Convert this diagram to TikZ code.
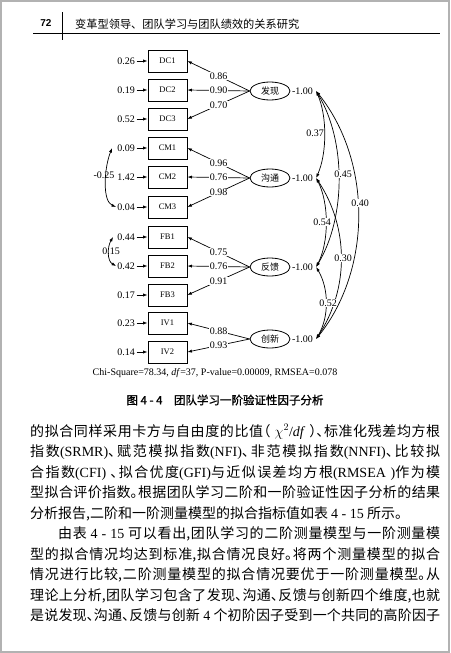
\documentclass[tikz,border=0pt]{standalone}
\usepackage{fontspec}
\setmainfont{Liberation Serif}
\newfontfamily\cjk{Noto Sans CJK SC}
\newfontfamily\cjkbody[RawFeature=+halt]{Noto Sans CJK SC}
\newfontfamily\cjkb[FakeBold=1.2]{Noto Sans CJK SC}
\newfontfamily\hsans{Liberation Sans}
\usetikzlibrary{arrows.meta,shapes.geometric}
\newcommand\mylat[1]{{\rmfamily #1}}
\begin{document}
\begin{tikzpicture}[x=1pt,y=-1pt,
  box/.style={draw,line width=0.8pt,minimum width=39pt,minimum height=22pt,inner sep=0pt,font=\fontsize{8.5}{8.5}\selectfont},
  lat/.style={ellipse,draw,line width=0.8pt,minimum width=40pt,minimum height=18pt,inner sep=0pt,font=\cjk\fontsize{9}{9}\selectfont},
  err/.style={anchor=east,inner sep=0pt,font=\fontsize{10}{10}\selectfont},
  num/.style={inner sep=0.6pt,fill=white,font=\fontsize{10}{10}\selectfont},
  bare/.style={inner sep=0pt,font=\fontsize{10}{10}\selectfont},
  arr/.style={-{Latex[length=4.5pt,width=3.2pt]},line width=0.7pt},
  cov/.style={{Latex[length=4.5pt,width=3.2pt]}-{Latex[length=4.5pt,width=3.2pt]},line width=0.7pt}]
\useasboundingbox (0,0) rectangle (450,653);
% page frame
\draw[gray!60,line width=1.2pt] (1,1) rectangle (449,652);
% header
\node[font=\hsans\bfseries\fontsize{10}{10}\selectfont] (pg) at (46,23) {72};
\draw[line width=1pt] (62,12) -- (62,40);
\node[anchor=west,inner sep=0pt,font=\cjk\fontsize{11.2}{11.2}\selectfont] (ht) at (75,24) {变革型领导、团队学习与团队绩效的关系研究};
\draw[line width=1.6pt] (33,33.5) -- (440,33.5);
% observed variables and errors
\foreach \n/\t/\y/\e in {d1/DC1/61/0.26, d2/DC2/90/0.19, d3/DC3/119/0.52,
  c1/CM1/148/0.09, c2/CM2/177/1.42, c3/CM3/207/0.04,
  b1/FB1/237/0.44, b2/FB2/266/0.42, b3/FB3/295/0.17,
  i1/IV1/323/0.23, i2/IV2/352/0.14}{
  \node[box] (\n) at (167.5,\y) {\t};
  \node[err] (e\n) at (135,\y) {\e};
  \draw[arr,shorten <=1.5pt] (e\n) -- (\n);
}
% latent variables
\node[lat] (f1) at (270,91) {发现};
\node[lat] (f2) at (270,178) {沟通};
\node[lat] (f3) at (270,267) {反馈};
\node[lat] (f4) at (270,339) {创新};
% loadings
\foreach \f/\b/\v in {f1/d1/0.86, f1/d2/0.90, f1/d3/0.70,
  f2/c1/0.96, f2/c2/0.76, f2/c3/0.98,
  f3/b1/0.75, f3/b2/0.76, f3/b3/0.91,
  f4/i1/0.88, f4/i2/0.93}{
  \draw[arr] (\f.west) -- (\b.east) node[num,pos=0.5] {\v};
}
% variances
\foreach \k in {1,2,3,4}{
  \node[bare,anchor=west] (v\k) at ([xshift=1.5pt]f\k.east) {-1.00};
  \coordinate (r\k) at ([xshift=3pt]v\k.east);
}
% factor covariances
\draw[cov] (r1) .. controls +(11,25) and +(11,-25) .. (r2);
\draw[cov] (r1) .. controls +(30,50) and +(30,-50) .. (r3);
\draw[cov] (r1) .. controls +(56,70) and +(56,-70) .. (r4);
\draw[cov] (r2) .. controls +(13,25) and +(13,-25) .. (r3);
\draw[cov] (r2) .. controls +(33,50) and +(33,-50) .. (r4);
\draw[cov] (r3) .. controls +(13,22) and +(13,-22) .. (r4);
\node[num] (k37) at (315,133) {0.37};
\node[num] (k45) at (343,174) {0.45};
\node[num] (k40) at (360,203) {0.40};
\node[num] (k54) at (322,222) {0.54};
\node[num] (k30) at (343,258) {0.30};
\node[num] (k52) at (328,303) {0.52};
% error covariances
\draw[cov] ([xshift=-5pt]ec1.west) .. controls +(-8,20) and +(-14,-6) .. ([xshift=-1pt]ec3.west);
\draw[cov] ([xshift=-4pt]eb1.west) .. controls +(-6,10) and +(-9,-5) .. ([xshift=-1pt]eb2.west);
\node[bare] (k25) at (104,175) {-0.25};
\node[bare] (k15) at (111,251) {0.15};
% fit line and caption
\node[font=\fontsize{10}{10}\selectfont] (chi) at (215,373) {Chi-Square=78.34, \textit{df}=37, P-value=0.00009, RMSEA=0.078};
\node[font=\cjkb\fontsize{11.5}{11.5}\selectfont] (cap) at (225,400) {图 4 - 4\quad 团队学习一阶验证性因子分析};
% body text
\node[anchor=base west,inner sep=0pt] (body) at (30,436) {\begin{minipage}[t]{410pt}\cjkbody\fontsize{14}{20.55}\selectfont
\XeTeXlinebreaklocale "zh"\XeTeXlinebreakskip=0pt plus 2pt\relax
的拟合同样采用卡方与自由度的比值（\mylat{ $\chi^2$/\textit{df} }）、标准化残差均方根\linebreak
指数\mylat{(SRMR)}、赋范模拟指数\mylat{(NFI)}、非范模拟指数\mylat{(NNFI)}、比较拟\linebreak
合指数\mylat{(CFI)} 、拟合优度\mylat{(GFI)}与近似误差均方根\mylat{(RMSEA )}作为模\linebreak
型拟合评价指数。根据团队学习二阶和一阶验证性因子分析的结果\linebreak
分析报告,二阶和一阶测量模型的拟合指标值如表 \mylat{4 - 15} 所示。\par
\hspace*{2em}由表 \mylat{4 - 15} 可以看出,团队学习的二阶测量模型与一阶测量模\linebreak
型的拟合情况均达到标准,拟合情况良好。将两个测量模型的拟合\linebreak
情况进行比较,二阶测量模型的拟合情况要优于一阶测量模型。从\linebreak
理论上分析,团队学习包含了发现、沟通、反馈与创新四个维度,也就\linebreak
是说发现、沟通、反馈与创新 \mylat{4} 个初阶因子受到一个共同的高阶因子\parfillskip=0pt\par
\end{minipage}};
\end{tikzpicture}
\end{document}
